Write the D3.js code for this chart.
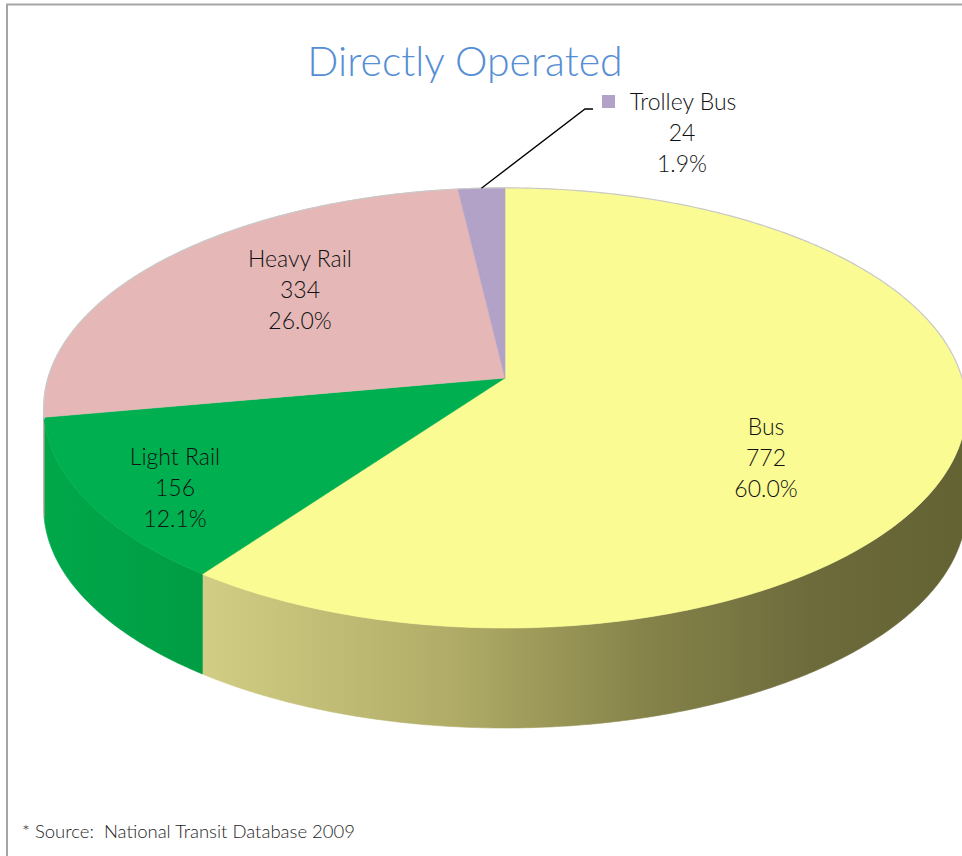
<!DOCTYPE html>
<html>
<head>
<meta charset="utf-8">
<script src="https://cdn.jsdelivr.net/npm/d3@7/dist/d3.min.js"></script>
<style>
  body { margin: 0; background: #fff; }
  svg { display: block; }
</style>
</head>
<body>
<div id="chart"></div>
<script>
// data
var categories = ["Bus", "Light Rail", "Heavy Rail", "Trolley Bus"];
var values = [772, 156, 334, 24];
var percentLabels = ["60.0%", "12.1%", "26.0%", "1.9%"];

var titleText = "Directly Operated";
var sourceText = "* Source:  National Transit Database 2009";

// chart setup
var svgWidth = 962;
var svgHeight = 856;

// pie geometry (tilted disc with a little perspective)
var cx = 505, cy = 378;   // projected centre of the top face
var a = 457, b = 216;     // horizontal / vertical radius factors
var k = 0.136;            // perspective factor
var depth = 100;          // thickness of the pie

var topColor = d3.scaleOrdinal()
  .domain(categories)
  .range(["#fbfb94", "#00b050", "#e5b8b7", "#b3a2c7"]);

var sideColor = d3.scaleOrdinal()
  .domain(categories)
  .range(["url(#busSide)", "url(#greenSide)", "#c99a99", "#9485a9"]);

var svg = d3.select("#chart")
  .append("svg")
  .attr("width", svgWidth)
  .attr("height", svgHeight);

var defs = svg.append("defs");

var busGrad = defs.append("linearGradient")
  .attr("id", "busSide")
  .attr("gradientUnits", "userSpaceOnUse")
  .attr("x1", 205).attr("x2", 965).attr("y1", 0).attr("y2", 0);
busGrad.selectAll("stop")
  .data([[0, "#d1cd84"], [0.32, "#b1ad68"], [0.58, "#858349"], [0.8, "#6d6b3c"], [1, "#636233"]])
  .join("stop")
  .attr("offset", d => d[0])
  .attr("stop-color", d => d[1]);

var greenGrad = defs.append("linearGradient")
  .attr("id", "greenSide")
  .attr("gradientUnits", "userSpaceOnUse")
  .attr("x1", 44).attr("x2", 210).attr("y1", 0).attr("y2", 0);
greenGrad.selectAll("stop")
  .data([[0, "#00a84a"], [1, "#009c43"]])
  .join("stop")
  .attr("offset", d => d[0])
  .attr("stop-color", d => d[1]);

// frame
svg.append("path")
  .attr("d", "M7,856 V4.5 H962")
  .attr("fill", "none")
  .attr("stroke", "#a5a5a5")
  .attr("stroke-width", 2);

// angle (clockwise from 12 o'clock) -> screen point
function project(phi, dy) {
  var X = Math.sin(phi);
  var Y = -Math.cos(phi);
  var w = 1 - k * Y;
  return [cx + a * X / w, cy + b * Y / w + (dy || 0)];
}

function arcPoints(a0, a1, dy) {
  var n = Math.max(2, Math.ceil((a1 - a0) / 0.01));
  return d3.range(n + 1).map(i => project(a0 + (a1 - a0) * i / n, dy));
}

var pie = d3.pie()
  .sort(null)
  .value(d => d.value);

var slices = pie(categories.map((c, i) => ({ name: c, value: values[i], pct: percentLabels[i] })));

var line = d3.line();

// the side is visible from the leftmost to the rightmost screen point
var visStart = Math.acos(-k);
var visEnd = 2 * Math.PI - visStart;

var sideGroup = svg.append("g");
slices.forEach(function(s) {
  var s0 = Math.max(s.startAngle, visStart);
  var s1 = Math.min(s.endAngle, visEnd);
  if (s1 <= s0) return;
  var topArc = arcPoints(s0, s1, 0);
  var botArc = arcPoints(s0, s1, depth).reverse();
  sideGroup.append("path")
    .attr("d", line(topArc.concat(botArc)) + "Z")
    .attr("fill", sideColor(s.data.name))
    .attr("stroke", sideColor(s.data.name))
    .attr("stroke-width", 0.6);
});

// top face
var topGroup = svg.append("g");
slices.forEach(function(s) {
  var pts = [[cx, cy]].concat(arcPoints(s.startAngle, s.endAngle, 0));
  topGroup.append("path")
    .attr("d", line(pts) + "Z")
    .attr("fill", topColor(s.data.name))
    .attr("stroke", topColor(s.data.name))
    .attr("stroke-width", 0.6);
});

// soft rim on the back edge
topGroup.append("path")
  .attr("d", line(arcPoints(visEnd - 0.05, 2 * Math.PI + visStart + 0.05, 0)))
  .attr("fill", "none")
  .attr("stroke", "#c9c9c9")
  .attr("stroke-width", 1.2);

// title
svg.append("text")
  .attr("x", 465)
  .attr("y", 76)
  .attr("text-anchor", "middle")
  .attr("font-family", "Lato, 'Open Sans', sans-serif")
  .attr("font-weight", 300)
  .attr("font-size", 41)
  .attr("fill", "#558ed5")
  .text(titleText);

// data labels
var labelPos = {
  "Bus": [766, 435],
  "Light Rail": [175, 465],
  "Heavy Rail": [300, 267],
  "Trolley Bus": [682, 110]
};

var labelGroup = svg.append("g")
  .attr("font-family", "Lato, 'Open Sans', sans-serif")
  .attr("font-weight", 300)
  .attr("font-size", 23)
  .attr("fill", "#111")
  .attr("text-anchor", "middle");

slices.forEach(function(s) {
  var p = labelPos[s.data.name];
  var t = labelGroup.append("text")
    .attr("x", p[0])
    .attr("y", p[1]);
  var lines = [s.data.name, d3.format("d")(s.data.value), s.data.pct];
  lines.forEach(function(l, i) {
    t.append("tspan")
      .attr("x", p[0])
      .attr("dy", i === 0 ? 0 : 31)
      .text(l);
  });
});

// legend key + leader line for the small slice
var trolley = slices[3];
var tip = project((trolley.startAngle + trolley.endAngle) / 2, 0);
svg.append("path")
  .attr("d", line([tip, [585, 109], [593, 109]]))
  .attr("fill", "none")
  .attr("stroke", "#000")
  .attr("stroke-width", 1.3);

svg.append("rect")
  .attr("x", 602)
  .attr("y", 95)
  .attr("width", 13)
  .attr("height", 13)
  .attr("fill", topColor("Trolley Bus"));

labelGroup.selectAll("text").filter((d, i) => i === 3)
  .select("tspan")
  .attr("x", 683);

// source note
svg.append("text")
  .attr("x", 22)
  .attr("y", 838)
  .attr("font-family", "Lato, 'Open Sans', sans-serif")
  .attr("font-weight", 300)
  .attr("font-size", 18.5)
  .attr("fill", "#1e1e1e")
  .style("white-space", "pre")
  .text(sourceText);
</script>
</body>
</html>
